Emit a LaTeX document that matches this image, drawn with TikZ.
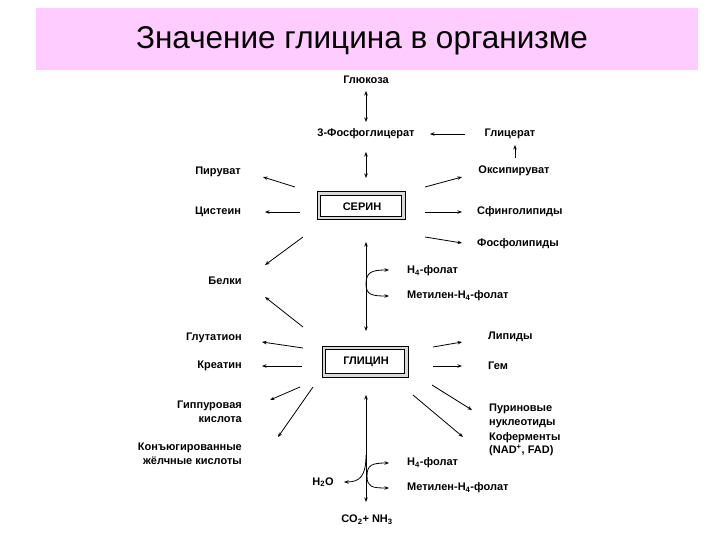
\documentclass[tikz,border=0pt]{standalone}
\usepackage{fontspec}
\setmainfont{Liberation Sans}
\usetikzlibrary{arrows.meta}
\definecolor{bannerpink}{HTML}{FFCCFF}
\tikzset{
  lbl/.style={font=\fontsize{11}{13.5}\selectfont\bfseries, inner sep=0pt},
  blbl/.style={font=\fontsize{11}{13.5}\selectfont\bfseries, inner sep=0pt},
  arr/.style={-{Stealth[length=4.5pt,width=3.5pt]}, line width=0.8pt},
  darr/.style={{Stealth[length=4.5pt,width=3.5pt]}-{Stealth[length=4.5pt,width=3.5pt]}, line width=0.8pt},
  boxtxt/.style={font=\fontsize{11}{13}\selectfont\bfseries, inner sep=0pt}
}
\begin{document}
\begin{tikzpicture}[x=1pt,y=-1pt]
\useasboundingbox (0,0) rectangle (720,540);
% banner
\fill[bannerpink] (36,8) rectangle (698,70);
\node[font=\fontsize{31.5}{34}\selectfont, inner sep=0pt] (title) at (362,41) {Значение глицина в организме};

% serine box
\draw[line width=1pt, fill=gray!30] (317,192) rectangle (405,220);
\draw[line width=0.6pt, fill=white] (320.5,195.5) rectangle (401.5,216.5);
\node[boxtxt] (ser) at (362,207) {СЕРИН};
% glycine box
\draw[line width=1pt, fill=gray!30] (322,346) rectangle (408,377);
\draw[line width=0.6pt, fill=white] (325.5,349.5) rectangle (404.5,373.5);
\node[boxtxt] (gly) at (366,362) {ГЛИЦИН};

% labels
\node[lbl] (glc) at (366,80) {Глюкоза};
\node[lbl] (pg) at (366,134) {3-Фосфоглицерат};
\node[lbl] (glyc) at (510,134) {Глицерат};
\node[lbl] (oxp) at (514,171) {Оксипируват};
\node[lbl] (pyr) at (218,172) {Пируват};
\node[lbl] (cys) at (218,212) {Цистеин};
\node[lbl, anchor=west] (sph) at (477,212) {Сфинголипиды};
\node[lbl, anchor=west] (phl) at (477,244) {Фосфолипиды};
\node[lbl] (prot) at (225,281) {Белки};
\node[blbl, anchor=west] (fa) at (407,271) {Н\textsubscript{4}-фолат};
\node[blbl, anchor=west] (ma) at (407,296) {Метилен-Н\textsubscript{4}-фолат};
\node[lbl, anchor=east] (gsh) at (242,338) {Глутатион};
\node[lbl, anchor=east] (cre) at (242,366) {Креатин};
\node[lbl, anchor=west] (lip) at (488,337) {Липиды};
\node[lbl, anchor=west] (hem) at (488,366) {Гем};
\node[lbl, anchor=east, align=right] (hip) at (242,412) {Гиппуровая\\кислота};
\node[lbl, anchor=east, align=right] (conj) at (242,454) {Конъюгированные\\жёлчные кислоты};
\node[lbl, anchor=west, align=left] (pur) at (489,416) {Пуриновые\\нуклеотиды};
\node[lbl, anchor=west, align=left] (cof) at (489,444) {Коферменты\\(NAD\textsuperscript{+}, FAD)};
\node[lbl] (h2o) at (323,482) {H\textsubscript{2}O};
\node[blbl, anchor=west] (fb) at (407,463) {Н\textsubscript{4}-фолат};
\node[blbl, anchor=west] (mb) at (407,488) {Метилен-Н\textsubscript{4}-фолат};
\node[lbl] (co2) at (367,520) {CO\textsubscript{2}+ NH\textsubscript{3}};

% connector end points
\coordinate (a1) at (366,91);  \coordinate (a2) at (366,122);
\coordinate (b1) at (465,134); \coordinate (b2) at (430,134);
\coordinate (c1) at (515,158); \coordinate (c2) at (515,145);
\coordinate (d1) at (366,152); \coordinate (d2) at (366,178);
\coordinate (e1) at (295,187); \coordinate (e2) at (263,177);
\coordinate (f1) at (425,187); \coordinate (f2) at (462,177);
\coordinate (g1) at (300,212); \coordinate (g2) at (265,212);
\coordinate (h1) at (425,212); \coordinate (h2) at (462,212);
\coordinate (i1) at (425,237); \coordinate (i2) at (462,243);
\coordinate (j1) at (303,237); \coordinate (j2) at (265,265);
\coordinate (k1) at (303,327); \coordinate (k2) at (265,297);
\coordinate (l1) at (366,242); \coordinate (l2) at (366,331);
\coordinate (m0) at (366,284); \coordinate (m1) at (389,270); \coordinate (m2) at (389,296);
\coordinate (n1) at (303,348); \coordinate (n2) at (262,342);
\coordinate (o1) at (302,366); \coordinate (o2) at (262,366);
\coordinate (p1) at (433,347); \coordinate (p2) at (462,342);
\coordinate (q1) at (433,366); \coordinate (q2) at (462,366);
\coordinate (r1) at (300,387); \coordinate (r2) at (270,400);
\coordinate (s1) at (313,387); \coordinate (s2) at (278,437);
\coordinate (t1) at (432,385); \coordinate (t2) at (472,410);
\coordinate (u1) at (413,395); \coordinate (u2) at (463,437);
\coordinate (v1) at (366,502); \coordinate (v2) at (366,395);
\coordinate (w0) at (366,455); \coordinate (w1) at (344,482);
\coordinate (x0) at (367,476); \coordinate (x1) at (389,463); \coordinate (x2) at (389,488);

\draw[darr] (a1) -- (a2);
\draw[arr] (b1) -- (b2);
\draw[arr] (c1) -- (c2);
\draw[darr] (d1) -- (d2);
\draw[arr] (e1) -- (e2);
\draw[arr] (f1) -- (f2);
\draw[arr] (g1) -- (g2);
\draw[arr] (h1) -- (h2);
\draw[arr] (i1) -- (i2);
\draw[arr] (j1) -- (j2);
\draw[arr] (k1) -- (k2);
\draw[darr] (l1) -- (l2);
\draw[arr] (m0) .. controls (366,272) and (372,270) .. (m1);
\draw[arr] (m0) .. controls (366,295) and (372,296) .. (m2);
\draw[arr] (n1) -- (n2);
\draw[arr] (o1) -- (o2);
\draw[arr] (p1) -- (p2);
\draw[arr] (q1) -- (q2);
\draw[arr] (r1) -- (r2);
\draw[arr] (s1) -- (s2);
\draw[arr] (t1) -- (t2);
\draw[arr] (u1) -- (u2);
\draw[darr] (v1) -- (v2);
\draw[arr] (w0) .. controls (366,476) and (360,482) .. (w1);
\draw[arr] (x0) .. controls (367,465) and (372,463) .. (x1);
\draw[arr] (x0) .. controls (367,487) and (372,488) .. (x2);
\end{tikzpicture}
\end{document}
